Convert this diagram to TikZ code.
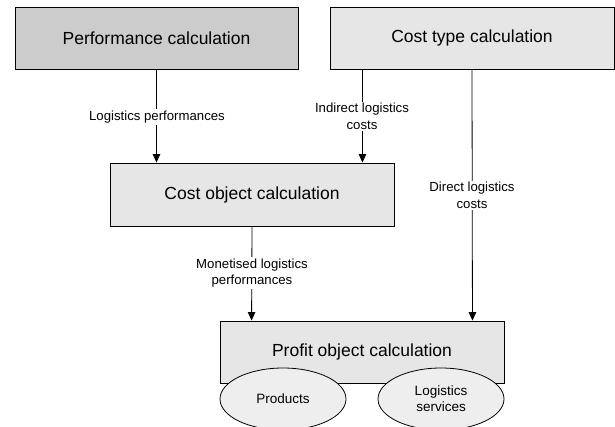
\documentclass[tikz,border=0pt]{standalone}
\usepackage{fontspec}
\setmainfont{Liberation Sans}
\usetikzlibrary{arrows.meta,shapes.geometric}
\definecolor{darkbox}{HTML}{CCCCCC}
\definecolor{lightbox}{HTML}{E6E6E6}
\definecolor{ellfill}{HTML}{EEEEEE}
\tikzset{
  calcbox/.style={draw=black, line width=0.9pt, fill=lightbox, rectangle, inner sep=0pt,
    font=\fontsize{17.5}{20}\selectfont},
  ellnode/.style={draw=black, line width=0.8pt, fill=ellfill, ellipse, inner sep=0pt,
    minimum width=126pt, minimum height=62pt, align=center, font=\fontsize{13.5}{16}\selectfont},
  lbl/.style={fill=white, inner sep=1.5pt, align=center, font=\fontsize{13.2}{16.5}\selectfont},
  arr/.style={line width=0.8pt, -{Triangle[width=7.5pt,length=8.5pt]}},
  plain/.style={line width=0.8pt}
}
\begin{document}
\begin{tikzpicture}[x=1pt,y=-1pt]
\useasboundingbox (0,0) rectangle (615,426);
\clip (0,0) rectangle (615,426);
\node[calcbox, fill=darkbox, minimum width=283pt, minimum height=62pt] (perf) at (156.5,38) {Performance calculation};
\node[calcbox, minimum width=284pt, minimum height=62pt] (ctype) at (472,38) {Cost type calculation};
\node[calcbox, minimum width=284pt, minimum height=63pt] (cobj) at (252,194.5) {Cost object calculation};
\node[calcbox, minimum width=284pt, minimum height=62pt] (prof) at (362,352) {Profit object calculation};
\node[ellnode] (prod) at (283,399) {Products};
\node[ellnode] (serv) at (441,399) {Logistics\\services};

\coordinate (ind) at ([xshift=-32pt]cobj.north east);
\coordinate (dir) at ([xshift=-32pt]prof.north east);
\coordinate (mon) at ([xshift=32pt]prof.north west);

\draw[arr] (perf.south) -- (perf.south |- cobj.north);
\draw[arr] (ind |- ctype.south) -- (ind);
\draw[arr] (ctype.south) -- (dir);
\draw[arr] (cobj.south) -- (mon);

\node[lbl] (l1) at (157,117) {Logistics performances};
\node[lbl] (l2) at (362,116.5) {Indirect logistics\\costs};
\node[lbl] (l3) at (472,195.5) {Direct logistics\\costs};
\node[lbl] (l4) at (252,273) {Monetised logistics\\performances};
\end{tikzpicture}
\end{document}
